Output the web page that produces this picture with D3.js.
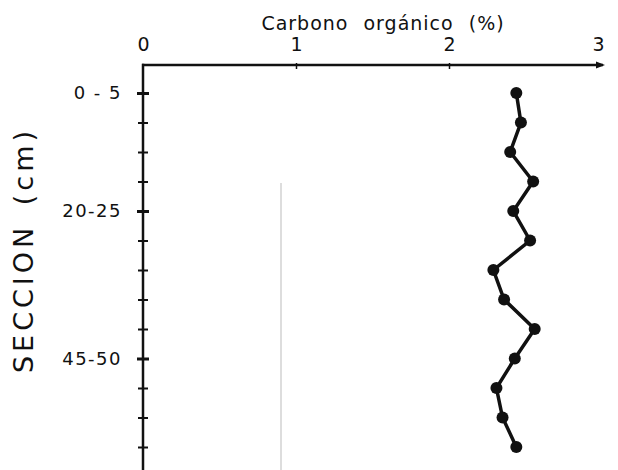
<!DOCTYPE html>
<html>
<head>
<meta charset="utf-8">
<script src="https://cdn.jsdelivr.net/npm/d3@7"></script>
<style>
  body { margin: 0; background: #fff; }
  text { font-family: "DejaVu Sans", sans-serif; fill: #111; }
</style>
</head>
<body>
<div id="chart"></div>
<script>
var svgWidth = 618;
var svgHeight = 470;

// data
var sections = ["0-5", "5-10", "10-15", "15-20", "20-25", "25-30", "30-35",
  "35-40", "40-45", "45-50", "50-55", "55-60", "60-65"];
var carbon = [2.44, 2.47, 2.40, 2.55, 2.42, 2.53, 2.29, 2.36, 2.56, 2.43, 2.31, 2.35, 2.44];
var xTicks = [0, 1, 2, 3];
var yLabels = { "0-5": "0 - 5", "20-25": "20-25", "45-50": "45-50" };

var svg = d3.select("#chart")
  .append("svg")
  .attr("width", svgWidth)
  .attr("height", svgHeight);

var xScale = d3.scaleLinear()
  .domain([0, 3])
  .range([143, 602]);

var yScale = d3.scalePoint()
  .domain(sections)
  .range([93, 447]);

var axisY = 65;
var axisX = xScale(0);

// faint scan line
svg.append("line")
  .attr("x1", 281).attr("x2", 281)
  .attr("y1", 183).attr("y2", 470)
  .attr("stroke", "#bbb")
  .attr("stroke-width", 1);

// top axis
var topAxis = d3.axisTop(xScale)
  .tickValues(xTicks)
  .tickSize(0)
  .tickPadding(14)
  .tickFormat(d3.format("d"));

var gx = svg.append("g")
  .attr("transform", `translate(0, ${axisY})`)
  .call(topAxis);
gx.select(".domain").remove();
gx.selectAll(".tick text")
  .attr("font-size", 19)
  .attr("dx", d => d === 3 ? -4 : 0);
gx.selectAll(".tick")
  .filter(d => d === 1 || d === 2)
  .append("line")
  .attr("y1", -2).attr("y2", 4)
  .attr("stroke", "#111")
  .attr("stroke-width", 1.5);

svg.append("line")
  .attr("x1", axisX - 1).attr("x2", 603)
  .attr("y1", axisY).attr("y2", axisY)
  .attr("stroke", "#111")
  .attr("stroke-width", 2.5);
svg.append("path")
  .attr("d", `M596,${axisY - 3.5}L605,${axisY}L596,${axisY + 3.5}Z`)
  .attr("fill", "#111");

// left axis
var leftAxis = d3.axisLeft(yScale)
  .tickSize(0)
  .tickPadding(21)
  .tickFormat(d => yLabels[d] || "");

var gy = svg.append("g")
  .attr("transform", `translate(${axisX}, 0)`)
  .call(leftAxis);
gy.select(".domain").remove();
gy.selectAll(".tick text")
  .attr("font-size", 18)
  .attr("letter-spacing", 1.5);
gy.selectAll(".tick")
  .append("line")
  .attr("x1", d => yLabels[d] ? -6 : -5)
  .attr("x2", d => yLabels[d] ? 6 : 5)
  .attr("stroke", "#111")
  .attr("stroke-width", d => yLabels[d] ? 3 : 2);

svg.append("line")
  .attr("x1", axisX).attr("x2", axisX)
  .attr("y1", axisY - 1.2).attr("y2", svgHeight)
  .attr("stroke", "#111")
  .attr("stroke-width", 2.5);

// axis titles
svg.append("text")
  .attr("x", 383)
  .attr("y", 30)
  .attr("text-anchor", "middle")
  .attr("font-size", 19)
  .attr("letter-spacing", 1)
  .attr("word-spacing", 8)
  .text("Carbono orgánico (%)");

svg.append("text")
  .attr("transform", "translate(33, 250) rotate(-90)")
  .attr("text-anchor", "middle")
  .attr("font-size", 27)
  .attr("letter-spacing", 4)
  .attr("word-spacing", 6)
  .text("SECCION (cm)");

// profile line and points
var line = d3.line()
  .x((d, i) => xScale(d))
  .y((d, i) => yScale(sections[i]));

svg.append("path")
  .datum(carbon)
  .attr("d", line)
  .attr("fill", "none")
  .attr("stroke", "#111")
  .attr("stroke-width", 3.5);

svg.selectAll("circle")
  .data(carbon)
  .enter()
  .append("circle")
  .attr("cx", d => xScale(d))
  .attr("cy", (d, i) => yScale(sections[i]))
  .attr("r", 6)
  .attr("fill", "#111");
</script>
</body>
</html>
